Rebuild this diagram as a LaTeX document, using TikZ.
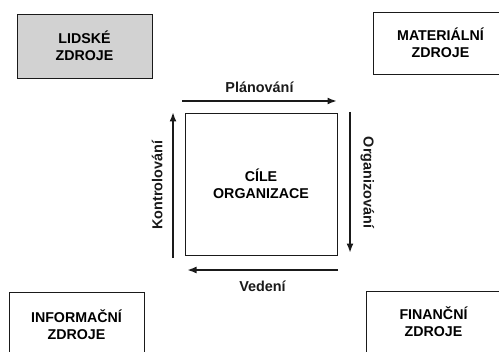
\documentclass[tikz,border=0pt]{standalone}
\usepackage{fontspec}
\setmainfont{Liberation Sans}
\usetikzlibrary{arrows.meta,positioning}
\definecolor{Ink}{HTML}{1A1A1A}
\definecolor{Shade}{HTML}{D2D2D2}
\tikzset{
  zdroj/.style={
    draw=Ink, line width=0.45pt, fill=white,
    minimum width=2.7cm, minimum height=1.28cm, align=center,
    font=\fontsize{8.1}{9.8}\selectfont\bfseries
  },
  cil/.style={
    draw=Ink, line width=0.5pt,
    minimum width=3.04cm, minimum height=2.84cm, align=center,
    font=\fontsize{8.1}{9.8}\selectfont\bfseries
  },
  funkce/.style={font=\fontsize{8.2}{10}\selectfont\bfseries, text=Ink},
  cyklus/.style={-{Latex[length=1.9mm,width=1.4mm]}, line width=1.3pt, draw=Ink}
}
\begin{document}
\begin{tikzpicture}[x=0.02cm,y=-0.02cm]
  \useasboundingbox (0,0) rectangle (499,351);
  \clip (0,0) rectangle (499,351);
  % zdroje
  \node[zdroj,fill=Shade] (lidske) at (84.5,46) {LIDSKÉ\\ZDROJE};
  \node[zdroj,minimum height=1.24cm] (materialni) at (440.5,43) {MATERIÁLNÍ\\ZDROJE};
  \node[zdroj,minimum height=1.32cm] (informacni) at (76.5,325) {INFORMAČNÍ\\ZDROJE};
  \node[zdroj,minimum height=1.24cm] (financni) at (433.5,322) {FINANČNÍ\\ZDROJE};
  % cile
  \node[cil] (cile) at (261,184) {CÍLE\\ORGANIZACE};
  % cyklus rizeni
  \coordinate (p1) at (182,101);
  \coordinate (p2) at (337,101);
  \coordinate (o1) at (350,112);
  \coordinate (o2) at (350,253);
  \coordinate (v1) at (338,270);
  \coordinate (v2) at (187,270);
  \coordinate (k1) at (173,258);
  \coordinate (k2) at (173,112);
  \draw[cyklus] (p1) -- node[funkce,above=1pt] (plan) {Plánování} (p2);
  \draw[cyklus] (o1) -- node[funkce,rotate=-90,anchor=south,yshift=2pt] (org) {Organizování} (o2);
  \draw[cyklus] (v1) -- node[funkce,below=2pt] (ved) {Vedení} (v2);
  \draw[cyklus] (k1) -- node[funkce,rotate=90,anchor=south,yshift=2pt] (kon) {Kontrolování} (k2);
\end{tikzpicture}
\end{document}
